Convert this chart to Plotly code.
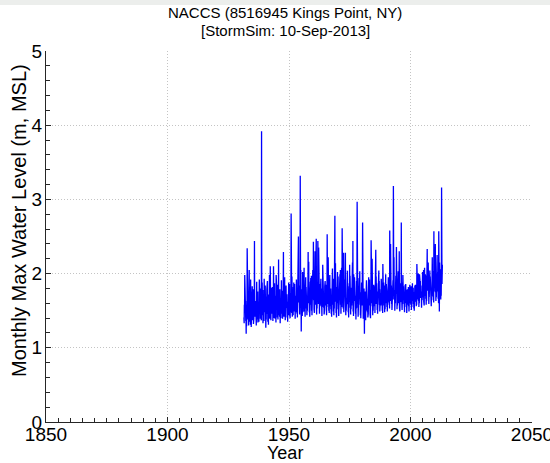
import plotly.graph_objects as go

# ---- data (monthly max water level, m MSL) ----
start_year = 1931
start_month = 6  # June 1931
wl_by_year = [
    [1.41, 1.33, 1.58, 1.49, 1.98, 1.62, 1.77],                                   # 1931 (Jun-Dec)
    [1.52, 1.70, 1.36, 1.44, 1.19, 1.57, 1.29, 1.63, 1.41, 2.34, 1.48, 1.66],     # 1932
    [1.81, 1.38, 1.59, 1.72, 1.30, 1.54, 1.46, 2.05, 1.35, 1.69, 1.58, 1.43],     # 1933
    [1.64, 1.31, 1.92, 1.55, 1.47, 1.28, 1.61, 1.39, 1.74, 1.50, 1.83, 1.45],     # 1934
    [1.37, 1.68, 1.52, 1.79, 1.32, 1.46, 1.40, 1.60, 1.53, 2.44, 1.42, 1.71],     # 1935
    [1.85, 1.49, 1.63, 1.36, 1.57, 1.44, 1.30, 1.66, 1.89, 1.51, 1.38, 1.60],     # 1936
    [1.56, 1.76, 1.34, 1.62, 1.48, 1.41, 1.59, 1.35, 1.67, 1.92, 1.45, 1.73],     # 1937
    [1.47, 1.80, 1.39, 1.58, 1.43, 2.64, 1.52, 1.37, 3.92, 1.70, 1.54, 1.88],     # 1938
    [1.62, 1.44, 1.78, 1.33, 1.55, 1.40, 1.49, 1.65, 1.36, 1.93, 1.57, 1.48],     # 1939
    [1.74, 1.53, 1.84, 1.42, 1.61, 1.27, 1.50, 1.38, 1.69, 1.46, 1.79, 1.55],     # 1940
    [1.43, 1.90, 1.57, 1.35, 1.66, 1.48, 1.31, 1.72, 1.52, 1.60, 1.41, 1.98],     # 1941
    [1.58, 1.39, 1.75, 2.10, 1.45, 1.62, 1.37, 1.54, 1.47, 1.81, 1.59, 1.50],     # 1942
    [1.68, 1.46, 1.82, 1.51, 1.36, 1.64, 1.43, 2.10, 1.57, 1.40, 1.76, 1.53],     # 1943
    [1.87, 1.49, 1.61, 1.39, 1.70, 1.45, 1.56, 1.34, 1.98, 1.63, 1.47, 1.80],     # 1944
    [1.52, 1.85, 1.41, 1.67, 1.48, 1.38, 1.60, 1.50, 2.19, 1.44, 1.73, 1.58],     # 1945
    [1.66, 1.42, 1.79, 1.55, 1.33, 1.61, 1.47, 1.69, 1.40, 1.58, 1.91, 1.49],     # 1946
    [1.57, 1.77, 1.46, 1.63, 1.39, 1.54, 1.44, 1.71, 2.29, 1.50, 1.65, 1.42],     # 1947
    [1.80, 1.48, 1.95, 1.43, 1.60, 1.37, 1.66, 1.52, 1.45, 1.84, 1.56, 1.69],     # 1948
    [1.54, 1.72, 1.41, 1.62, 1.49, 1.35, 1.58, 1.46, 1.75, 1.53, 1.88, 1.44],     # 1949
    [1.69, 1.51, 1.86, 1.45, 1.63, 1.40, 1.55, 1.74, 1.48, 1.66, 2.81, 1.59],     # 1950
    [1.78, 1.47, 1.96, 1.53, 1.42, 1.67, 1.50, 1.61, 1.44, 1.82, 1.57, 1.88],     # 1951
    [1.55, 1.81, 1.49, 1.86, 1.44, 1.60, 1.39, 1.70, 1.53, 1.64, 1.77, 1.48],     # 1952
    [1.92, 1.58, 1.74, 1.46, 1.63, 1.41, 1.69, 1.52, 1.80, 1.56, 2.50, 1.65],     # 1953
    [1.61, 1.84, 1.50, 1.72, 1.45, 1.58, 1.66, 3.32, 1.90, 1.54, 2.05, 1.73],     # 1954
    [1.22, 1.68, 1.79, 1.51, 1.62, 1.43, 1.57, 2.02, 1.48, 1.75, 1.59, 1.85],     # 1955
    [1.64, 1.87, 2.08, 1.49, 1.70, 1.46, 1.58, 1.42, 1.76, 1.61, 1.95, 1.53],     # 1956
    [1.82, 1.55, 1.71, 1.63, 1.44, 1.66, 1.50, 1.59, 1.73, 1.86, 2.29, 1.60],     # 1957
    [1.77, 2.16, 1.62, 1.89, 1.48, 1.57, 1.42, 1.68, 1.55, 1.79, 1.64, 1.94],     # 1958
    [1.58, 1.83, 1.97, 1.50, 1.67, 1.44, 1.61, 1.72, 1.53, 2.05, 1.66, 1.80],     # 1959
    [2.43, 1.64, 1.85, 1.52, 1.74, 1.47, 1.60, 1.69, 2.30, 1.58, 1.78, 1.91],     # 1960
    [1.70, 1.88, 2.47, 1.57, 1.45, 1.69, 1.53, 1.81, 1.62, 1.75, 2.44, 1.66],     # 1961
    [1.84, 1.59, 2.35, 1.73, 1.50, 1.63, 1.46, 1.70, 1.58, 1.86, 1.67, 1.79],     # 1962
    [1.65, 1.93, 1.56, 1.80, 1.48, 1.61, 1.43, 1.74, 1.55, 1.68, 2.12, 1.87],     # 1963
    [2.06, 1.62, 1.77, 1.54, 1.69, 1.45, 1.60, 1.51, 1.83, 1.64, 1.90, 1.72],     # 1964
    [1.57, 1.85, 1.68, 1.49, 1.74, 1.44, 1.63, 1.55, 2.53, 1.70, 1.59, 1.82],     # 1965
    [1.95, 2.22, 1.61, 1.76, 1.50, 1.66, 1.47, 1.58, 1.72, 1.98, 1.56, 1.69],     # 1966
    [1.63, 1.80, 1.52, 1.71, 1.46, 1.60, 1.42, 1.68, 1.77, 1.55, 2.07, 1.74],     # 1967
    [1.86, 1.58, 1.93, 1.49, 1.65, 1.44, 1.61, 1.53, 1.79, 1.67, 2.78, 1.62],     # 1968
    [1.75, 2.14, 1.64, 1.82, 1.47, 1.59, 1.41, 1.70, 1.56, 1.84, 1.63, 2.02],     # 1969
    [1.60, 1.77, 1.96, 1.52, 1.68, 1.43, 1.57, 1.49, 1.73, 1.88, 1.61, 1.99],     # 1970
    [1.71, 2.05, 1.58, 1.79, 1.46, 1.64, 1.51, 2.08, 1.55, 1.69, 2.61, 1.76],     # 1971
    [1.89, 1.62, 2.10, 1.53, 1.70, 2.28, 1.48, 1.66, 1.57, 1.83, 1.65, 1.92],     # 1972
    [1.74, 1.85, 2.28, 1.56, 1.44, 1.67, 1.50, 1.61, 1.78, 1.59, 1.90, 1.68],     # 1973
    [2.04, 1.60, 1.83, 1.72, 1.48, 1.63, 1.41, 1.69, 1.54, 1.87, 1.62, 2.12],     # 1974
    [1.70, 1.97, 1.56, 1.66, 1.45, 1.74, 1.52, 1.60, 1.81, 1.57, 1.91, 1.64],     # 1975
    [1.83, 2.15, 1.61, 2.44, 1.49, 1.68, 1.43, 1.99, 1.58, 1.76, 1.63, 1.95],     # 1976
    [1.67, 1.84, 1.55, 1.73, 1.46, 1.62, 1.38, 1.70, 1.53, 1.90, 1.59, 2.06],     # 1977
    [2.97, 1.72, 1.88, 1.54, 1.65, 1.42, 1.60, 1.51, 1.77, 1.63, 1.94, 1.69],     # 1978
    [1.81, 2.03, 1.58, 1.75, 1.44, 1.61, 1.40, 1.67, 1.82, 1.55, 1.88, 1.62],     # 1979
    [1.73, 1.57, 2.07, 2.69, 1.47, 1.64, 1.39, 1.58, 1.71, 1.52, 1.80, 1.45],     # 1980
    [1.19, 1.68, 1.54, 1.76, 1.43, 1.60, 1.37, 1.65, 1.50, 1.79, 1.91, 1.58],     # 1981
    [1.84, 1.55, 1.72, 1.48, 1.66, 1.41, 1.59, 1.46, 1.74, 1.95, 1.57, 1.80],     # 1982
    [1.69, 1.92, 1.61, 1.78, 1.45, 1.63, 1.40, 1.70, 1.56, 2.45, 1.64, 2.02],     # 1983
    [1.77, 1.60, 2.20, 1.55, 1.71, 1.44, 1.62, 1.50, 1.81, 1.58, 1.85, 1.67],     # 1984
    [1.64, 1.83, 1.56, 1.72, 1.47, 1.65, 1.52, 1.60, 2.32, 1.75, 1.96, 1.59],     # 1985
    [1.87, 1.62, 1.76, 1.51, 1.68, 1.46, 1.63, 1.55, 1.80, 1.66, 1.89, 2.04],     # 1986
    [1.71, 1.90, 1.58, 1.79, 1.49, 1.67, 1.53, 1.61, 1.74, 1.57, 1.85, 1.93],     # 1987
    [1.66, 1.82, 1.60, 1.74, 1.50, 1.63, 1.47, 2.13, 1.58, 1.78, 1.64, 1.88],     # 1988
    [1.79, 1.57, 1.84, 1.62, 1.48, 1.70, 1.52, 1.65, 1.76, 1.99, 1.60, 1.73],     # 1989
    [1.86, 1.63, 1.77, 1.55, 1.69, 1.49, 1.66, 1.58, 1.82, 1.71, 1.95, 1.64],     # 1990
    [1.75, 1.89, 1.61, 1.80, 1.53, 2.58, 1.56, 1.68, 1.63, 2.40, 1.72, 1.87],     # 1991
    [1.68, 1.84, 1.59, 1.76, 1.51, 1.66, 1.54, 1.70, 1.62, 1.91, 1.74, 3.18],     # 1992
    [1.82, 1.65, 2.22, 1.69, 1.55, 1.72, 1.50, 1.64, 1.78, 1.60, 1.86, 1.97],     # 1993
    [1.73, 1.90, 2.36, 1.61, 1.75, 1.52, 1.67, 1.57, 1.83, 1.70, 1.94, 2.03],     # 1994
    [1.66, 1.85, 1.60, 1.79, 2.30, 1.54, 1.71, 1.49, 1.76, 1.87, 1.63, 1.93],     # 1995
    [1.80, 1.62, 2.69, 1.74, 1.53, 1.68, 1.51, 1.65, 1.88, 1.59, 1.98, 1.72],     # 1996
    [1.69, 1.83, 1.57, 1.77, 1.50, 1.64, 1.48, 1.70, 1.61, 1.85, 1.66, 1.80],     # 1997
    [1.86, 1.60, 1.78, 1.55, 1.68, 1.47, 1.62, 1.53, 1.79, 1.64, 1.73, 1.58],     # 1998
    [1.71, 1.82, 1.56, 1.69, 1.49, 1.63, 1.52, 1.66, 1.85, 1.60, 1.76, 1.67],     # 1999
    [1.78, 1.58, 1.83, 1.64, 1.51, 1.70, 1.55, 1.61, 1.74, 1.87, 1.63, 1.81],     # 2000
    [1.66, 1.80, 1.59, 1.75, 1.53, 1.68, 1.50, 1.72, 1.62, 1.84, 1.69, 1.77],     # 2001
    [1.85, 1.62, 1.79, 1.67, 1.56, 1.73, 1.58, 2.13, 1.70, 1.90, 1.65, 1.95],     # 2002
    [1.74, 1.88, 2.00, 1.63, 1.77, 1.55, 1.69, 1.60, 1.99, 1.81, 1.92, 1.71],     # 2003
    [1.90, 1.67, 1.84, 1.72, 1.58, 1.76, 1.54, 1.69, 1.87, 1.64, 1.93, 2.02],     # 2004
    [1.76, 1.94, 1.68, 1.82, 2.05, 1.62, 1.73, 1.57, 1.80, 2.08, 1.70, 1.99],     # 2005
    [1.85, 1.71, 1.97, 1.66, 1.79, 1.58, 1.74, 1.63, 1.89, 1.75, 2.33, 1.83],     # 2006
    [1.93, 1.77, 1.88, 2.15, 1.62, 1.80, 1.59, 1.72, 1.68, 1.95, 1.74, 2.04],     # 2007
    [1.81, 1.96, 1.70, 1.86, 1.60, 1.78, 1.56, 1.75, 1.91, 1.69, 1.98, 2.22],     # 2008
    [1.88, 1.73, 2.03, 1.79, 1.64, 1.82, 1.61, 2.57, 1.76, 2.10, 1.85, 2.18],     # 2009
    [1.97, 2.20, 2.40, 1.75, 1.86, 1.63, 1.80, 1.68, 1.94, 1.78, 2.06, 2.25],     # 2010
    [1.84, 2.02, 1.76, 1.91, 1.66, 1.83, 1.60, 2.57, 1.79, 2.12, 1.49, 2.15],     # 2011
    [1.95, 1.78, 2.06, 1.72, 1.88, 1.65, 1.82, 1.70, 1.93, 3.16, 2.20, 1.86],     # 2012
    [1.97, 2.12],                                                                 # 2013 (Jan-Feb)
]

title_line1 = "NACCS (8516945 Kings Point, NY)"
title_line2 = "[StormSim: 10-Sep-2013]"
x_label = "Year"
y_label = "Monthly Max Water Level (m, MSL)"
x_ticks = [1850, 1900, 1950, 2000, 2050]
y_ticks = [0, 1, 2, 3, 4, 5]

# build decimal-year time axis
t, wl = [], []
for i, row in enumerate(wl_by_year):
    yr = start_year + i
    m0 = start_month if i == 0 else 1
    for j, v in enumerate(row):
        t.append(yr + (m0 + j - 0.5) / 12.0)
        wl.append(v)

W, H = 550, 463
ML, MR, MT, MB = 46, 18, 51, 41
PW, PH = W - ML - MR, H - MT - MB

def px_x(px):
    return (px - ML) / PW

def px_y(py):
    return (H - MB - py) / PH

fig = go.Figure()
fig.add_trace(go.Scatter(x=t, y=wl, mode="lines",
                         line=dict(color="#0000ff", width=1.3),
                         showlegend=False, hoverinfo="skip"))

font_family = "Liberation Sans, Arial, Helvetica, sans-serif"
axis_common = dict(
    showline=True, linecolor="#262626", linewidth=1,
    ticks="inside", ticklen=5, tickcolor="#262626",
    showgrid=True, gridcolor="#c4c4c4", griddash="1px,2px", gridwidth=1,
    zeroline=False, mirror=False, automargin=False,
    ticklabeloverflow="allow",
    tickfont=dict(family=font_family, size=19, color="#000000"),
)

fig.update_xaxes(range=[1850, 2050], tickvals=x_ticks, ticklabelstandoff=-5,
                 minor=dict(dtick=5, ticks="inside", ticklen=4, tickcolor="#262626", showgrid=False),
                 **axis_common)
fig.update_yaxes(range=[0, 5], tickvals=y_ticks, ticklabelstandoff=-1,
                 minor=dict(dtick=0.2, ticks="inside", ticklen=4, tickcolor="#262626", showgrid=False),
                 **axis_common)

ann_font = dict(family=font_family, color="#000000")
fig.update_layout(
    width=W, height=H,
    margin=dict(l=ML, r=MR, t=MT, b=MB),
    paper_bgcolor="#ffffff", plot_bgcolor="#ffffff",
    annotations=[
        dict(text=title_line1, xref="paper", yref="paper", x=px_x(285), y=px_y(12),
             xanchor="center", yanchor="middle", showarrow=False, font=dict(size=15, **ann_font)),
        dict(text=title_line2, xref="paper", yref="paper", x=px_x(285), y=px_y(31),
             xanchor="center", yanchor="middle", showarrow=False, font=dict(size=15, **ann_font)),
        dict(text=x_label, xref="paper", yref="paper", x=px_x(285), y=px_y(453),
             xanchor="center", yanchor="middle", showarrow=False, font=dict(size=18, **ann_font)),
        dict(text=y_label, xref="paper", yref="paper", x=px_x(19), y=px_y(221),
             xanchor="center", yanchor="middle", textangle=-90, showarrow=False,
             font=dict(size=20, **ann_font)),
    ],
    shapes=[dict(type="rect", xref="paper", yref="paper",
                 x0=px_x(0), x1=px_x(W), y0=px_y(5), y1=px_y(0),
                 fillcolor="#eceeec", line=dict(width=0), layer="below")],
)

fig.write_html("out.html")
